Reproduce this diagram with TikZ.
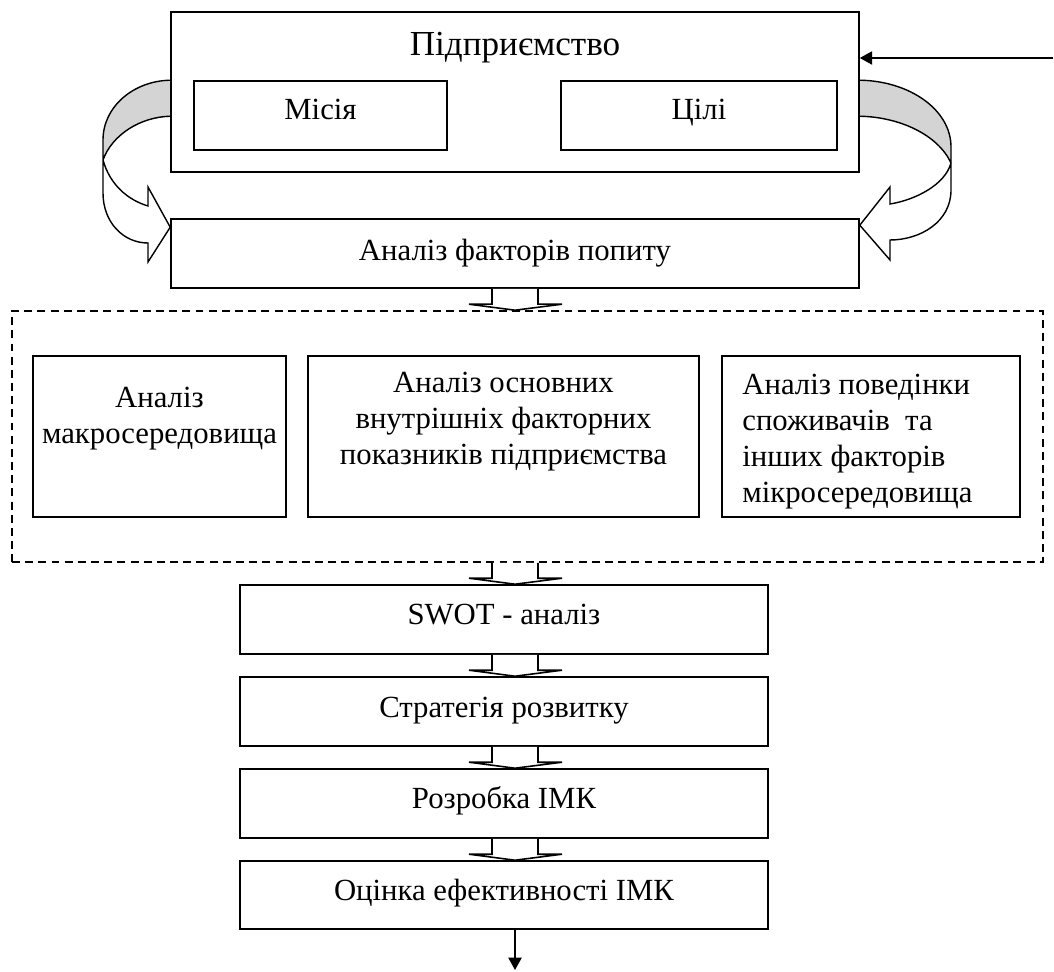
\documentclass[tikz,border=0pt]{standalone}
\usepackage{fontspec}
\setmainfont{Liberation Serif}
\usetikzlibrary{calc,arrows.meta}
\begin{document}
\begin{tikzpicture}[x=0.02cm,y=-0.02cm,
  box/.style={draw,line width=0.9pt,inner sep=0pt},
  wh/.style 2 args={minimum width=#1*0.02cm,minimum height=#2*0.02cm},
  txt/.style={inner sep=0pt,font=\fontsize{17.5}{20.4}\selectfont},
  bigtxt/.style={inner sep=0pt,font=\fontsize{20}{24}\selectfont},
  barr/.style={draw,fill=white,line width=0.9pt,line join=miter},
  larr/.style={line width=0.9pt,-{Triangle[length=7pt,width=7.5pt]}},
  curv/.style={draw,line width=0.8pt,line join=miter},
  shade/.style={fill=black!17},
  dashbox/.style={draw,line width=0.9pt,dash pattern=on 4.5pt off 3pt,inner sep=0pt}]
\useasboundingbox (0,0) rectangle (1054,972);

% gray bands of the curved arrows (drawn first)
\fill[shade] (171,81) .. controls (133,81) and (103,107) .. (103,140) -- (103,160) .. controls (112,135) and (140,117) .. (171,117) -- cycle;
\fill[shade] (859,81) .. controls (910,81) and (951,110) .. (951,147) -- (951,163) .. controls (938,135) and (900,117) .. (859,117) -- cycle;

% boxes
\node[box,wh={688}{160}] (top) at (515,92) {};
\node[box,wh={253}{69}] (mis) at (320.5,115.5) {};
\node[box,wh={276}{69}] (cil) at (699,115.5) {};
\node[box,wh={688}{69}] (fp) at (515,253.5) {};
\node[dashbox,wh={1031}{251}] (dash) at (527.5,436.5) {};
\node[box,wh={253}{161}] (macro) at (159.5,436.5) {};
\node[box,wh={391}{161}] (inner) at (503.5,436.5) {};
\node[box,wh={298}{161}] (micro) at (871,436.5) {};
\node[box,wh={528}{69}] (swot) at (504,619.5) {};
\node[box,wh={528}{69}] (strat) at (504,711.5) {};
\node[box,wh={528}{69}] (rozr) at (504,803.5) {};
\node[box,wh={528}{68}] (ocin) at (504,895) {};

% texts
\node[bigtxt,anchor=base] (tTop) at (515,56) {Підприємство};
\node[txt,anchor=base] (tMis) at (320.5,120) {Місія};
\node[txt,anchor=base] (tCil) at (699,120) {Цілі};
\node[txt,anchor=base] (tFp) at (515,261) {Аналіз факторів попиту};
\node[txt,anchor=north,align=center] (tMacro) at (159.5,387) {Аналіз\\макросередовища};
\node[txt,anchor=north,align=center] (tInner) at (503.5,372) {Аналіз основних\\внутрішніх факторних\\показників підприємства};
\node[txt,anchor=north west,align=left] (tMicro) at (742,374) {Аналіз поведінки\\споживачів~ та\\інших факторів\\мікросередовища};
\node[txt,anchor=base] (tSwot) at (504,624) {SWOT - аналіз};
\node[txt,anchor=base] (tStrat) at (504,717) {Стратегія розвитку};
\node[txt,anchor=base] (tRozr) at (504,808) {Розробка ІМК};
\node[txt,anchor=base] (tOcin) at (504,900) {Оцінка ефективності ІМК};

% block arrows
\coordinate (ax) at (top.south);
\newcommand\blockarr[2]{\path[barr] ($(#1)+(-23,0)$) -- ($(#2)+(-23,-6)$) -- ($(#2)+(-46,-6)$) -- (#2) -- ($(#2)+(47,-6)$) -- ($(#2)+(23,-6)$) -- ($(#1)+(23,0)$);}
\coordinate (a1s) at (ax |- fp.south);   \coordinate (a1e) at (ax |- dash.north);
\coordinate (a2s) at (ax |- dash.south); \coordinate (a2e) at (ax |- swot.north);
\coordinate (a3s) at (ax |- swot.south); \coordinate (a3e) at (ax |- strat.north);
\coordinate (a4s) at (ax |- strat.south);\coordinate (a4e) at (ax |- rozr.north);
\coordinate (a5s) at (ax |- rozr.south); \coordinate (a5e) at (ax |- ocin.north);
\blockarr{a1s}{a1e}
\blockarr{a2s}{a2e}
\blockarr{a3s}{a3e}
\blockarr{a4s}{a4e}
\blockarr{a5s}{a5e}

% line arrows
\coordinate (src) at (1053,58);
\draw[larr] (src) -- (src -| top.east);
\coordinate (endp) at (515,970);
\draw[larr] (ax |- ocin.south) -- (endp);

% curved arrows
\coordinate (lA) at ($(top.north west)+(0,69)$);
\coordinate (lB) at ($(top.north west)+(0,105)$);
\coordinate (lT) at ($(fp.north west)+(0,9)$);
\draw[curv] (lA) .. controls (133,81) and (103,107) .. (103,140) -- (103,193) .. controls (103,222) and (123,243) .. (148,243) -- (148,262) -- (lT) -- (148,187) -- (148,206) .. controls (128,200) and (110,185) .. (103,160) .. controls (112,135) and (140,117) .. (lB);
\coordinate (rA) at ($(top.north east)+(0,69)$);
\coordinate (rB) at ($(top.north east)+(0,105)$);
\coordinate (rT) at ($(fp.north east)+(0,7)$);
\draw[curv] (rA) .. controls (910,81) and (951,110) .. (951,147) -- (951,190) .. controls (951,222) and (920,240) .. (890,240) -- (890,260) -- (rT) -- (890,187) -- (890,204) .. controls (915,200) and (945,185) .. (951,163) .. controls (938,135) and (900,117) .. (rB);
\end{tikzpicture}
\end{document}
